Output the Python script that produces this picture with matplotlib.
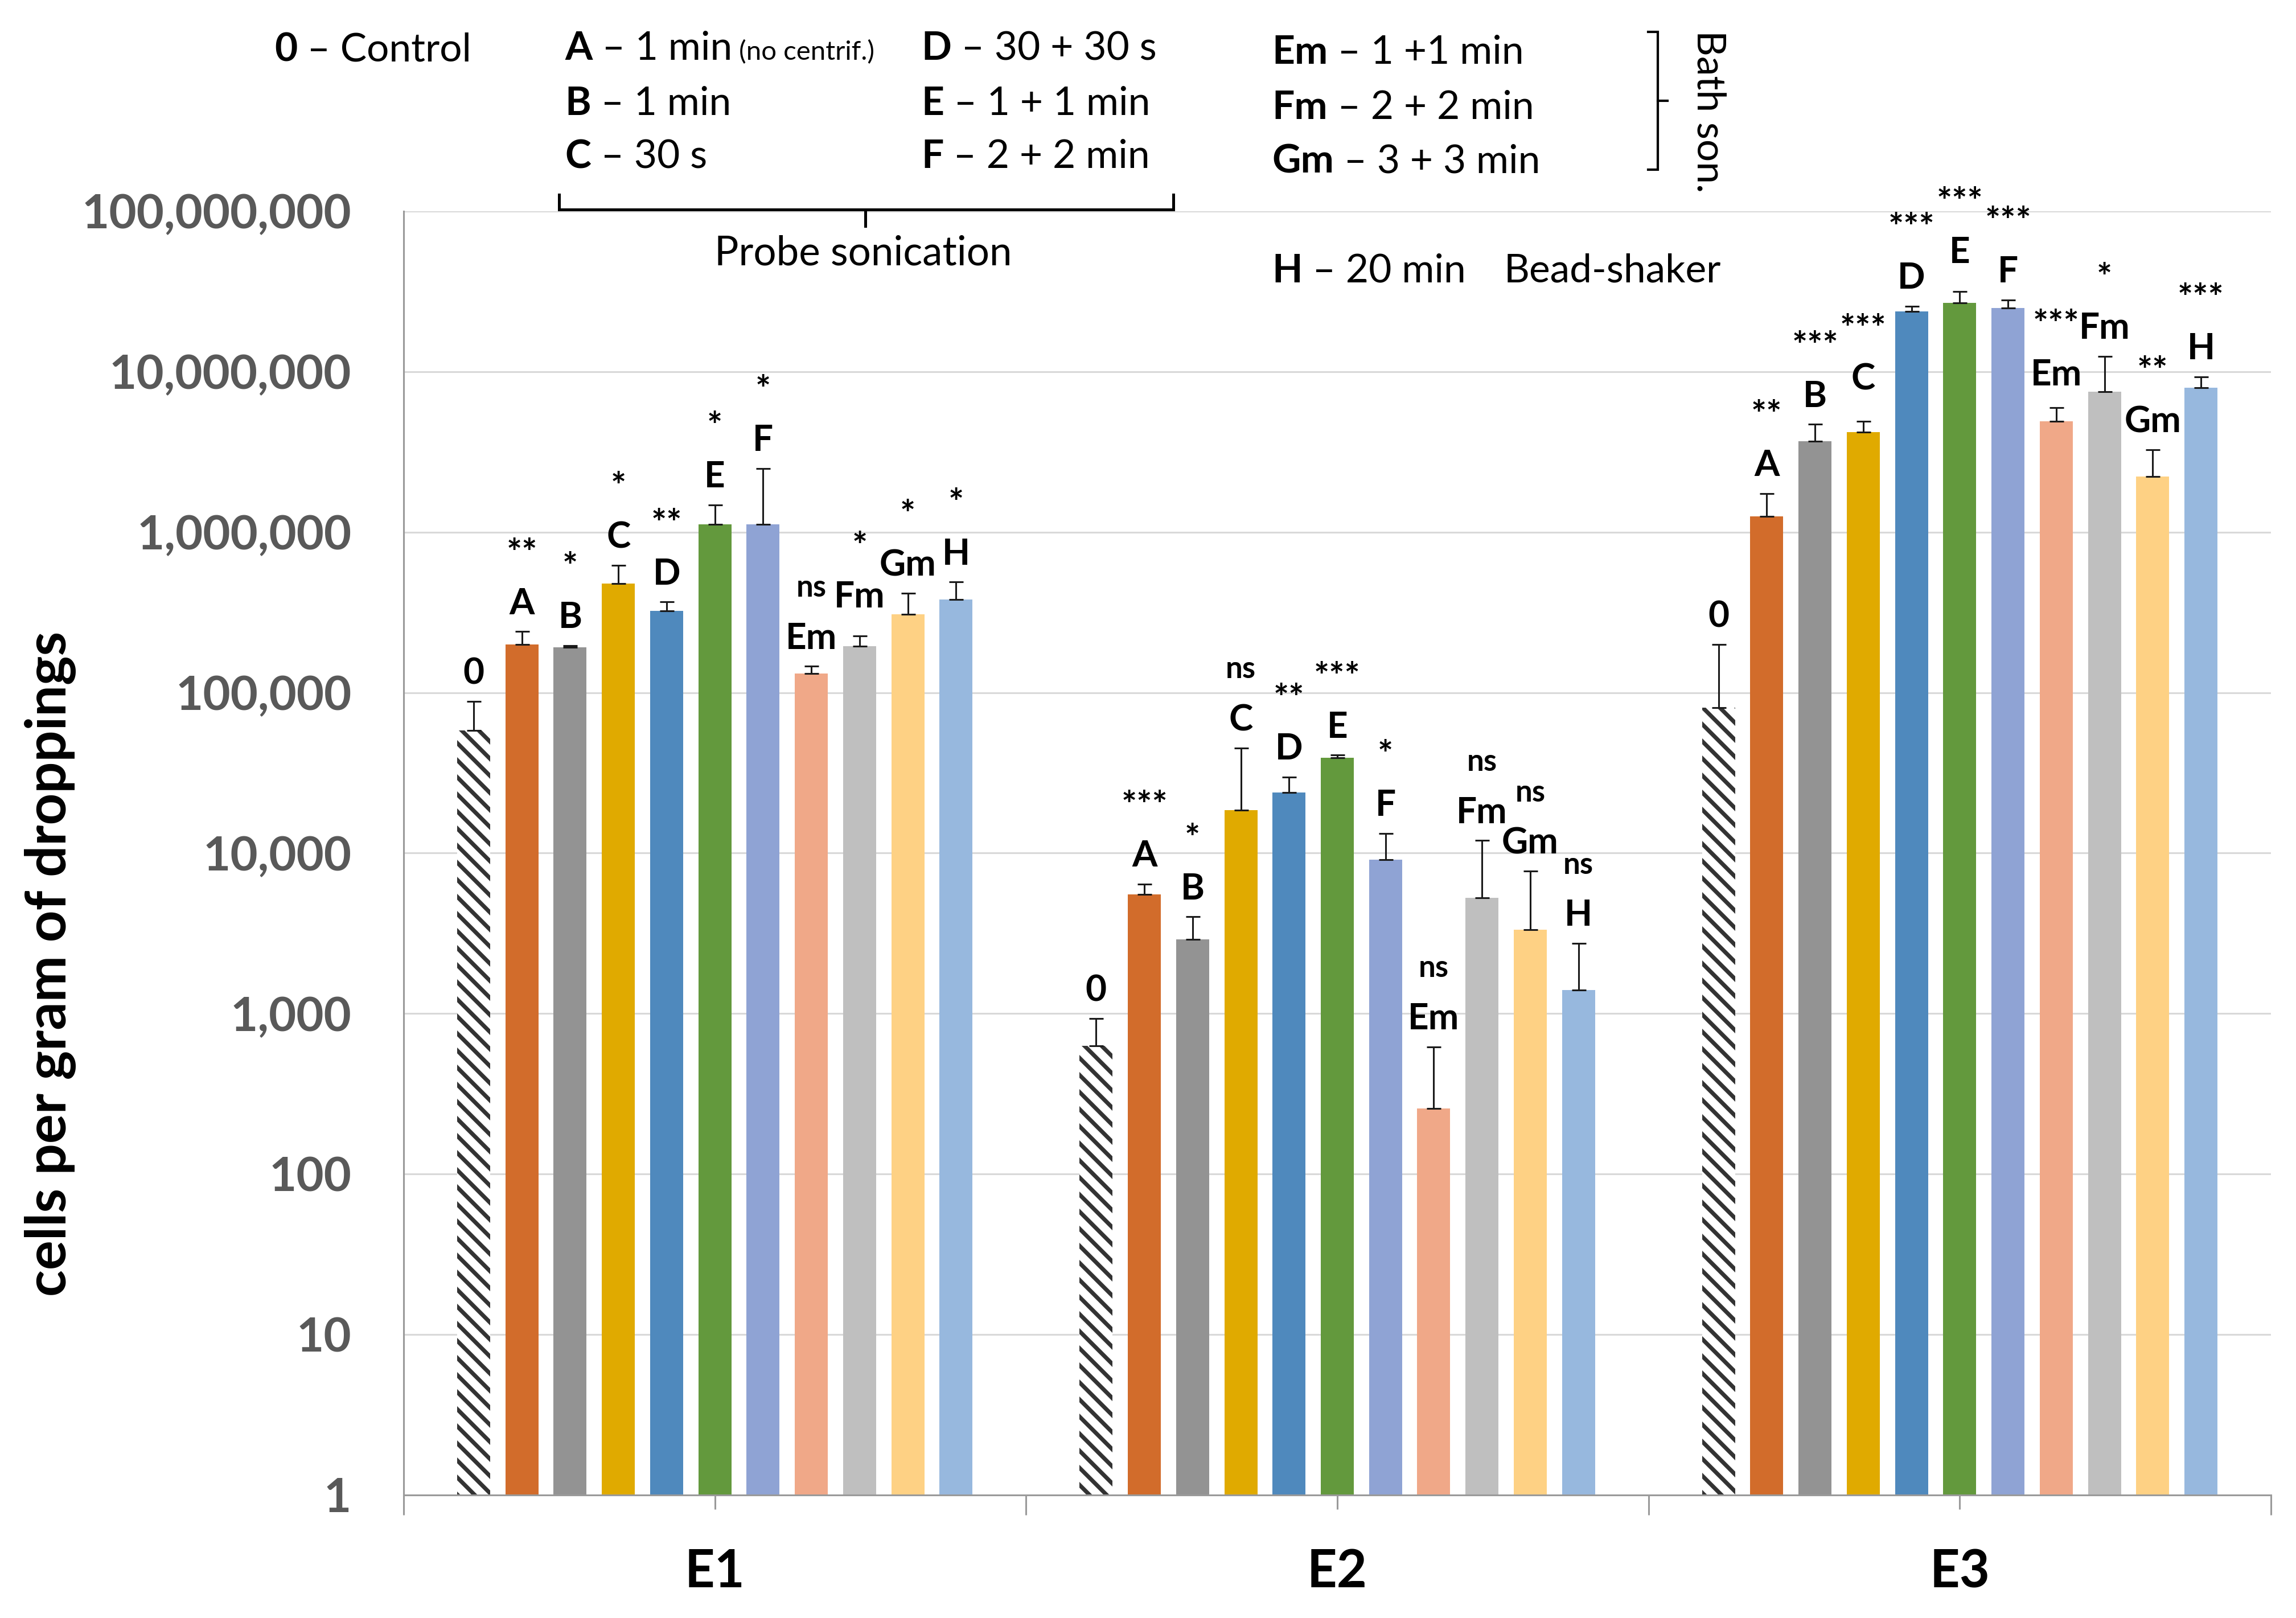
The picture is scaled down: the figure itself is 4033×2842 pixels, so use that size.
import matplotlib
matplotlib.use('Agg')
import matplotlib.pyplot as plt
import numpy as np
from matplotlib.ticker import FixedLocator, NullLocator
from matplotlib.lines import Line2D
from matplotlib.collections import LineCollection
from matplotlib.transforms import IdentityTransform

plt.rcParams['font.family'] = ['Lato', 'DejaVu Sans']

# ---------------- data ----------------
groups = ['E1', 'E2', 'E3']
treatments = ['0', 'A', 'B', 'C', 'D', 'E', 'F', 'Em', 'Fm', 'Gm', 'H']
bar_colors = ['white', '#D26C2B', '#939393', '#E0AA00', '#4F89BD', '#63993D',
              '#8FA3D4', '#F0A888', '#BFBFBF', '#FED184', '#97B8DE']

e1_mean = [58000, 200000, 191000, 480000, 322000, 1120000, 1120000, 132000, 195000, 308000, 382000]
e1_err = [30000, 40000, 6000, 142000, 45000, 360000, 1380000, 14000, 31000, 109000, 108000]
e1_sig = ['', '**', '*', '*', '**', '*', '*', 'ns', '*', '*', '*']

e2_mean = [630, 5540, 2890, 18600, 23800, 39300, 9100, 256, 5260, 3330, 1405]
e2_err = [300, 870, 1120, 26700, 6000, 1500, 4200, 366, 6740, 4370, 1335]
e2_sig = ['', '***', '*', 'ns', '**', '***', '*', 'ns', 'ns', 'ns', 'ns']

e3_mean = [80500, 1250000, 3690000, 4190000, 23700000, 26800000, 24900000, 4920000, 7500000, 2220000, 7940000]
e3_err = [118500, 490000, 1010000, 710000, 1900000, 4900000, 3100000, 1040000, 5000000, 1040000, 1360000]
e3_sig = ['', '**', '***', '***', '***', '***', '***', '***', '*', '**', '***']

ytick_values = [1, 10, 100, 1000, 10000, 100000, 1000000, 10000000, 100000000]
ytick_labels = ['1', '10', '100', '1,000', '10,000', '100,000', '1,000,000', '10,000,000', '100,000,000']
y_label = 'cells per gram of droppings'

# extra lift (points) of a few annotation labels, as placed in the original
label_nudge = {('E1', 'Fm'): 7, ('E3', 'C'): 9, ('E3', 'E'): 7, ('E3', 'Em'): 3}

# ---------------- figure ----------------
W, H, DPI = 4033, 2842, 200
fig = plt.figure(figsize=(W / DPI, H / DPI), dpi=DPI)
ax = fig.add_axes([709 / W, 1 - 2626 / H, 3280 / W, 2255 / H])
ax.set_yscale('log')
ax.set_ylim(1, 1e8)
ax.set_xlim(-0.5, 2.5)

spacing = 0.0775
width = 0.053
offsets = (np.arange(len(treatments)) - 5) * spacing

all_means = [e1_mean, e2_mean, e3_mean]
all_errs = [e1_err, e2_err, e3_err]
all_sigs = [e1_sig, e2_sig, e3_sig]

STRIPE_PERIOD = 30.0   # px, back-diagonal stripes of the control bar
STRIPE_LW = 2.6        # pt


def add_back_diagonal_stripes(patch):
    """Fill a bar with '\\' stripes drawn in pixel space, clipped to the bar."""
    bb = patch.get_window_extent()
    x0, y0, x1, y1 = bb.x0, bb.y0, bb.x1, bb.y1
    cs = np.arange(np.floor((x0 + y0) / STRIPE_PERIOD) * STRIPE_PERIOD,
                   x1 + y1 + STRIPE_PERIOD, STRIPE_PERIOD)
    segs = [[(c - (y1 + 20), y1 + 20), (c - (y0 - 20), y0 - 20)] for c in cs]
    lc = LineCollection(segs, colors='#333333', linewidths=STRIPE_LW,
                        transform=IdentityTransform(), zorder=2.5)
    ax.add_collection(lc, autolim=False)
    lc.set_clip_path(patch)


for gi, gname in enumerate(groups):
    xs = gi + offsets
    means = np.array(all_means[gi], dtype=float)
    errs = np.array(all_errs[gi], dtype=float)
    for j in range(len(treatments)):
        if j == 0:
            bc = ax.bar(xs[j], means[j] - 1, width, bottom=1, color='white',
                        linewidth=0, zorder=2)
            add_back_diagonal_stripes(bc.patches[0])
        else:
            ax.bar(xs[j], means[j] - 1, width, bottom=1, color=bar_colors[j],
                   linewidth=0, zorder=2)
    ax.errorbar(xs, means, yerr=[np.zeros_like(errs), errs], fmt='none',
                ecolor='#1a1a1a', elinewidth=1.1, capsize=4.5, capthick=1.1, zorder=3)
    for j, tname in enumerate(treatments):
        top = means[j] + errs[j]
        lift = label_nudge.get((gname, tname), 0)
        ax.annotate(tname, xy=(xs[j], top), xytext=(0, 11 + lift),
                    textcoords='offset points', ha='center', va='baseline',
                    fontsize=23, fontweight='bold', color='black', zorder=4)
        sig = all_sigs[gi][j]
        if sig:
            is_star = sig.startswith('*')
            ax.annotate(sig, xy=(xs[j], top),
                        xytext=(0, (42 if is_star else 44) + lift),
                        textcoords='offset points', ha='center', va='baseline',
                        fontsize=23 if is_star else 19, fontweight='bold',
                        color='black', zorder=4)

# axes styling
ax.yaxis.set_major_locator(FixedLocator(ytick_values))
ax.yaxis.set_minor_locator(NullLocator())
ax.set_yticklabels(ytick_labels)
ax.tick_params(axis='y', length=0, pad=33, labelsize=30, labelcolor='#595959')
for t in ax.get_yticklabels():
    t.set_fontweight('bold')

ax.set_xticks([0, 1, 2])
ax.set_xticklabels(groups)
ax.set_xticks([-0.5, 0.5, 1.5, 2.5], minor=True)
ax.tick_params(axis='x', which='major', length=9, width=1.1, color='#9a9a9a',
               pad=25, labelsize=33)
ax.tick_params(axis='x', which='minor', length=12.6, width=1.1, color='#9a9a9a')
for t in ax.get_xticklabels():
    t.set_fontweight('bold')

ax.yaxis.grid(True, color='#D9D9D9', linewidth=1.1)
ax.set_axisbelow(True)
for s in ['top', 'right']:
    ax.spines[s].set_visible(False)
for s in ['left', 'bottom']:
    ax.spines[s].set_color('#9a9a9a')
    ax.spines[s].set_linewidth(1.1)

ax.set_ylabel(y_label, fontsize=35, fontweight='bold', color='black')
ax.yaxis.set_label_coords(-0.1753, 0.4137)

# ---------------- header legend ----------------
renderer = fig.canvas.get_renderer()
HS = 25


def seg_text(x_px, y_px, parts):
    x = x_px
    for s, w, fs in parts:
        t = fig.text(x / W, 1 - y_px / H, s, fontsize=fs, fontweight=w,
                     ha='left', va='baseline', color='black')
        bb = t.get_window_extent(renderer)
        x = bb.x1


seg_text(482, 108, [('0', 'bold', HS), (' – Control', 'normal', HS)])
seg_text(992, 105, [('A', 'bold', HS), (' – 1 min', 'normal', HS), (' (no centrif.)', 'normal', 17)])
seg_text(992, 202, [('B', 'bold', HS), (' – 1 min', 'normal', HS)])
seg_text(992, 295, [('C', 'bold', HS), (' – 30 s', 'normal', HS)])
seg_text(1618, 105, [('D', 'bold', HS), (' – 30 + 30 s', 'normal', HS)])
seg_text(1618, 202, [('E', 'bold', HS), (' – 1 + 1 min', 'normal', HS)])
seg_text(1618, 295, [('F', 'bold', HS), (' – 2 + 2 min', 'normal', HS)])
seg_text(2234, 112, [('Em', 'bold', HS), (' – 1 +1 min', 'normal', HS)])
seg_text(2234, 209, [('Fm', 'bold', HS), (' – 2 + 2 min', 'normal', HS)])
seg_text(2234, 303, [('Gm', 'bold', HS), (' – 3 + 3 min', 'normal', HS)])
seg_text(2234, 496, [('H', 'bold', HS), (' – 20 min', 'normal', HS)])
fig.text(2642 / W, 1 - 496 / H, 'Bead-shaker', fontsize=HS, ha='left', va='baseline')
fig.text(1516 / W, 1 - 465 / H, 'Probe sonication', fontsize=25.5, ha='center', va='baseline')
fig.text(3001 / W, 1 - 196 / H, 'Bath son.', fontsize=HS, rotation=270,
         ha='center', va='center')


def fig_line(xs_px, ys_px, lw):
    fig.add_artist(Line2D(np.array(xs_px) / W, 1 - np.array(ys_px) / H,
                          transform=fig.transFigure, color='black', linewidth=lw,
                          solid_joinstyle='miter'))


# probe sonication bracket
fig_line([982, 982, 2061, 2061], [342, 368, 368, 342], 1.8)
fig_line([1520, 1520], [368, 397], 1.8)
# bath sonication bracket
fig_line([2895, 2912, 2912, 2895], [56, 56, 298, 298], 1.5)
fig_line([2912, 2929], [177, 177], 1.5)

fig.savefig('out.png', dpi=DPI, facecolor='white')
